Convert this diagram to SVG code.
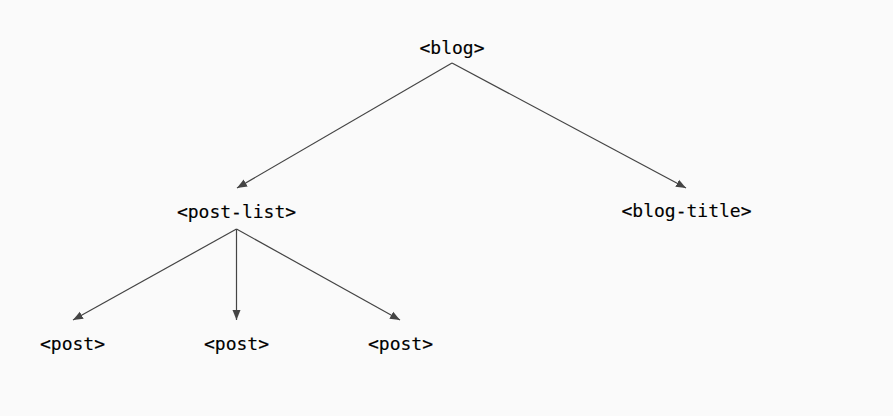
<svg xmlns="http://www.w3.org/2000/svg" width="893" height="416" viewBox="0 0 893 416">
<defs>
<style>
.lbl{font-family:"DejaVu Sans Mono","Liberation Mono",monospace;font-size:18px;fill:#000;stroke:#000;stroke-width:0.15;text-anchor:middle}
.edge{stroke:#444;stroke-width:1.2;fill:none}
</style>
<marker id="arr" viewBox="0 0 10 10" refX="10" refY="5" markerWidth="10" markerHeight="10" markerUnits="userSpaceOnUse" orient="auto">
<path d="M0,1 L10,5 L0,9 z" fill="#444"/>
</marker>
</defs>
<rect width="893" height="416" fill="#fafafa"/>
<g id="connectors">
<line class="edge" x1="452" y1="63" x2="237" y2="188" marker-end="url(#arr)"/>
<line class="edge" x1="452" y1="63" x2="686" y2="188" marker-end="url(#arr)"/>
<line class="edge" x1="236.5" y1="229" x2="73" y2="320" marker-end="url(#arr)"/>
<line class="edge" x1="236.5" y1="229" x2="236.5" y2="320" marker-end="url(#arr)"/>
<line class="edge" x1="236.5" y1="229" x2="400" y2="320" marker-end="url(#arr)"/>
</g>
<g id="blog"><text class="lbl" x="452" y="54">&lt;blog&gt;</text></g>
<g id="post-list"><text class="lbl" x="236.5" y="218">&lt;post-list&gt;</text></g>
<g id="blog-title"><text class="lbl" x="686.5" y="217">&lt;blog-title&gt;</text></g>
<g id="post1"><text class="lbl" x="72.5" y="350">&lt;post&gt;</text></g>
<g id="post2"><text class="lbl" x="236.5" y="350">&lt;post&gt;</text></g>
<g id="post3"><text class="lbl" x="400.5" y="350">&lt;post&gt;</text></g>
</svg>
